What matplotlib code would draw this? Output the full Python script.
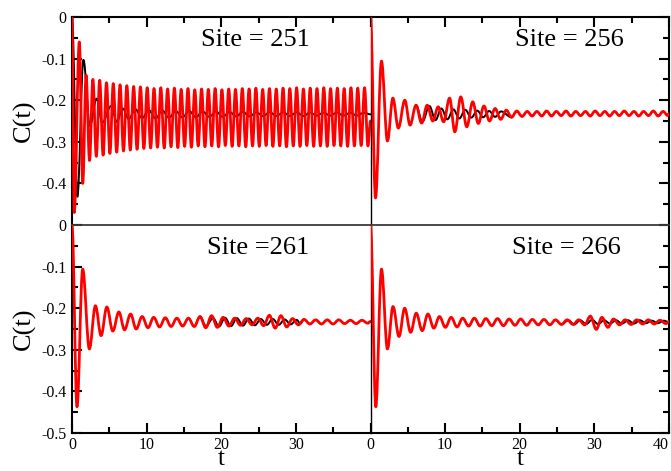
#!/usr/bin/env python3
"""C(t) at four sites: 2x2 panels, black vs red curves."""

import matplotlib

matplotlib.use("Agg")
import matplotlib.pyplot as plt
from matplotlib.patches import PathPatch
from matplotlib.path import Path
from matplotlib.ticker import MultipleLocator

# ── Data (extrema) ────────────────────────────────────────────────────────────
SITES = ["Site = 251", "Site = 256", "Site =261", "Site = 266"]

tl_red_t = [
    0.00, 0.30,
    0.98, 1.44, 1.89, 2.35, 2.80, 3.26, 3.71, 4.17, 4.62, 5.08,
    5.53, 5.99, 6.44, 6.90, 7.35, 7.81, 8.26, 8.72, 9.17, 9.63,
    10.08, 10.54, 10.99, 11.45, 11.90, 12.36, 12.81, 13.27, 13.72, 14.18,
    14.63, 15.09, 15.54, 16.00, 16.45, 16.91, 17.36, 17.82, 18.27, 18.73,
    19.18, 19.64, 20.09, 20.55, 21.00, 21.46, 21.91, 22.37, 22.82, 23.28,
    23.73, 24.19, 24.64, 25.10, 25.55, 26.01, 26.46, 26.92, 27.37, 27.83,
    28.28, 28.74, 29.19, 29.65, 30.10, 30.56, 31.01, 31.47, 31.92, 32.38,
    32.83, 33.29, 33.74, 34.20, 34.65, 35.11, 35.56, 36.02, 36.47, 36.93,
    37.38, 37.84, 38.29, 38.75, 39.20, 39.66,
    40.00,
]
tl_red_v = [
    0.0, -0.470,
    -0.060, -0.400, -0.140, -0.345, -0.150, -0.335, -0.152, -0.332,
    -0.158, -0.328, -0.160, -0.325, -0.163, -0.322, -0.165, -0.320,
    -0.167, -0.318, -0.168, -0.316, -0.170, -0.315, -0.172, -0.313,
    -0.170, -0.315, -0.173, -0.312, -0.171, -0.314, -0.174, -0.311,
    -0.172, -0.313, -0.175, -0.310, -0.173, -0.312, -0.174, -0.310,
    -0.172, -0.312, -0.175, -0.309, -0.173, -0.311, -0.174, -0.310,
    -0.172, -0.312, -0.173, -0.310, -0.171, -0.311, -0.174, -0.309,
    -0.172, -0.311, -0.173, -0.310, -0.171, -0.312, -0.172, -0.310,
    -0.170, -0.311, -0.173, -0.309, -0.171, -0.311, -0.172, -0.310,
    -0.170, -0.311, -0.172, -0.309, -0.171, -0.310, -0.172, -0.311,
    -0.170, -0.310, -0.171, -0.309, -0.170, -0.310,
    -0.250,
]
tl_black_t = [
    0.00, 0.72, 1.53, 2.40, 3.30, 4.05, 5.25, 6.00, 6.80, 7.60,
    8.50, 9.40, 10.30, 11.20, 12.10, 13.00, 13.90, 14.80, 15.70, 16.60,
    17.50, 18.40, 19.30, 20.20, 21.10, 22.00, 22.90, 23.80, 24.70, 25.60,
    26.50, 27.40, 28.30, 29.20, 30.10, 31.00, 31.90, 32.80, 33.70, 34.60,
    35.50, 36.40, 37.30, 38.20, 39.10, 40.00,
]
tl_black_v = [
    0.0, -0.432, -0.103, -0.262, -0.196, -0.254, -0.214, -0.252, -0.220, -0.245,
    -0.222, -0.243, -0.224, -0.244, -0.225, -0.242, -0.226, -0.241, -0.226, -0.241,
    -0.227, -0.240, -0.227, -0.240, -0.228, -0.239, -0.228, -0.239, -0.229, -0.238,
    -0.229, -0.238, -0.229, -0.238, -0.229, -0.238, -0.230, -0.237, -0.230, -0.237,
    -0.230, -0.237, -0.230, -0.237, -0.230, -0.234,
]

tr_red_t = [
    0.00, 0.67, 1.47, 2.27, 3.00, 3.73, 4.60, 5.30, 6.10, 6.85,
    7.60, 8.35, 9.07, 9.80, 10.60, 11.30, 12.10, 12.90, 13.70, 14.45,
    15.20, 15.95, 16.70, 17.45, 18.20, 18.90, 19.60, 20.30, 21.00,
    21.65, 22.30, 22.95, 23.60, 24.25, 24.90, 25.55, 26.20, 26.85, 27.50,
    28.15, 28.80, 29.45, 30.10, 30.75, 31.40, 32.05, 32.70, 33.35, 34.00,
    34.65, 35.30, 35.95, 36.60, 37.25, 37.90, 38.55, 39.20, 39.85,
    40.00,
]
tr_red_v = [
    0.0, -0.435, -0.106, -0.298, -0.195, -0.267, -0.200, -0.260, -0.212, -0.255,
    -0.212, -0.250, -0.216, -0.252, -0.195, -0.276, -0.192, -0.264, -0.204, -0.256,
    -0.214, -0.250, -0.220, -0.246, -0.224, -0.241, -0.226, -0.239, -0.227,
    -0.238, -0.227, -0.238, -0.226, -0.238, -0.227, -0.237, -0.226, -0.238, -0.227,
    -0.237, -0.227, -0.238, -0.226, -0.237, -0.227, -0.238, -0.227, -0.237, -0.226,
    -0.237, -0.227, -0.238, -0.227, -0.237, -0.226, -0.238, -0.227, -0.237,
    -0.232,
]
tr_black_t = [
    6.10, 6.95, 7.90, 8.70, 9.50, 10.30, 11.10, 11.90,
    12.70, 13.50, 14.30, 15.10, 15.90, 16.70, 17.50, 18.90,
]
tr_black_v = [
    -0.212, -0.252, -0.214, -0.248, -0.220, -0.246, -0.222, -0.244,
    -0.223, -0.242, -0.225, -0.241, -0.226, -0.240, -0.227, -0.241,
]

bl_red_t = [
    0.00, 0.67, 1.43, 2.33, 3.14, 3.90, 4.67, 5.47, 6.28, 7.04,
    7.85, 8.60, 9.40, 10.18, 10.95, 11.73, 12.50, 13.28, 14.05, 14.83,
    15.60, 16.38, 17.15, 17.93, 18.70, 19.48, 20.25, 21.03, 21.80, 22.58,
    23.35, 24.13, 24.90, 25.68, 26.45, 27.23, 28.00, 28.78, 29.55, 30.33,
    31.10, 31.88, 32.65, 33.43, 34.20, 34.98, 35.75, 36.53, 37.30, 38.08,
    38.85, 39.63, 40.00,
]
bl_red_v = [
    0.0, -0.437, -0.106, -0.298, -0.194, -0.266, -0.197, -0.255, -0.209, -0.252,
    -0.214, -0.250, -0.220, -0.247, -0.222, -0.245, -0.223, -0.244, -0.224, -0.243,
    -0.224, -0.244, -0.220, -0.247, -0.218, -0.246, -0.222, -0.243, -0.224, -0.241,
    -0.225, -0.240, -0.224, -0.242, -0.217, -0.248, -0.218, -0.245, -0.225, -0.240,
    -0.227, -0.238, -0.228, -0.238, -0.228, -0.238, -0.228, -0.237, -0.229, -0.237,
    -0.229, -0.236, -0.232,
]
bl_black_t = [
    17.15, 17.95, 18.90, 19.70, 20.50, 21.30, 22.10, 22.90, 23.70, 24.50,
    25.30, 26.10, 26.90, 27.70, 28.50, 29.30, 30.10, 30.60, 31.10,
]
bl_black_v = [
    -0.220, -0.243, -0.224, -0.244, -0.223, -0.243, -0.224, -0.242, -0.225, -0.241,
    -0.226, -0.240, -0.226, -0.240, -0.227, -0.239, -0.228, -0.237, -0.227,
]

br_red_t = [
    0.00, 0.71, 1.47, 2.27, 3.02, 3.82, 4.58, 5.38, 6.13, 6.93,
    7.69, 8.49, 9.24, 10.04, 10.80, 11.60, 12.35, 13.15, 13.91, 14.70,
    15.46, 16.26, 17.02, 17.82, 18.57, 19.37, 20.13, 20.93, 21.68, 22.48,
    23.24, 24.04, 24.79, 25.59, 26.35, 27.15, 27.90, 28.70, 29.46, 30.26,
    31.01, 31.81, 32.57, 33.37, 34.12, 34.92, 35.68, 36.48, 37.23, 38.03,
    38.79, 39.59, 40.00,
]
br_red_v = [
    0.0, -0.437, -0.106, -0.298, -0.196, -0.268, -0.200, -0.258, -0.212, -0.254,
    -0.214, -0.248, -0.220, -0.246, -0.222, -0.245, -0.224, -0.243, -0.224, -0.243,
    -0.225, -0.242, -0.225, -0.242, -0.226, -0.241, -0.226, -0.241, -0.227, -0.240,
    -0.227, -0.240, -0.228, -0.239, -0.228, -0.239, -0.228, -0.240, -0.219, -0.251,
    -0.222, -0.246, -0.226, -0.240, -0.228, -0.239, -0.228, -0.238, -0.228, -0.238,
    -0.229, -0.237, -0.232,
]
br_black_t = [
    25.59, 26.50, 27.30, 28.10, 28.90, 29.70, 30.50, 31.30, 32.10, 32.90,
    33.70, 34.50, 35.30, 36.10, 36.90, 37.70, 38.50, 39.30, 40.00,
]
br_black_v = [
    -0.239, -0.229, -0.239, -0.229, -0.238, -0.228, -0.238, -0.229, -0.237, -0.229,
    -0.237, -0.229, -0.237, -0.229, -0.236, -0.230, -0.236, -0.230, -0.234,
]

Y_TICKS = [0, -0.1, -0.2, -0.3, -0.4, -0.5]
Y_LABELS = ["0", "-0.1", "-0.2", "-0.3", "-0.4", "-0.5"]
X_TICKS = [0, 10, 20, 30, 40]
X_LABELS = ["0", "10", "20", "30", "40"]

# ── Style ─────────────────────────────────────────────────────────────────────
RED = "#ff0000"
BLACK = "#000000"
DIVIDER = "#3a3a3a"

plt.rcParams.update({
    "font.family": ["Liberation Serif", "DejaVu Serif"],
    "axes.unicode_minus": False,
})


def wave_path(t, v, k=0.364):
    """Cubic path through the extrema, flat tangent at each one."""
    verts = [(t[0], v[0])]
    codes = [Path.MOVETO]
    for i in range(1, len(t)):
        d = t[i] - t[i - 1]
        verts += [(t[i - 1] + k * d, v[i - 1]), (t[i] - k * d, v[i]), (t[i], v[i])]
        codes += [Path.CURVE4] * 3
    return Path(verts, codes)


def draw_wave(ax, t, v, color, lw, z):
    patch = PathPatch(wave_path(t, v), facecolor="none", edgecolor=color,
                      linewidth=lw, zorder=z, joinstyle="round", capstyle="round")
    ax.add_patch(patch)


def style_axis(ax, left, right, top, bottom):
    ax.set_xlim(0, 40)
    ax.set_ylim(-0.5, 0)
    ax.xaxis.set_major_locator(MultipleLocator(10))
    ax.xaxis.set_minor_locator(MultipleLocator(5))
    ax.yaxis.set_major_locator(MultipleLocator(0.1))
    ax.yaxis.set_minor_locator(MultipleLocator(0.05))
    ax.tick_params(which="both", direction="in", width=1.5,
                   left=left, right=right, top=top, bottom=bottom,
                   labelleft=False, labelright=False, labeltop=False, labelbottom=False)
    ax.tick_params(which="major", length=7.5)
    ax.tick_params(which="minor", length=4)
    for side in ("left", "right", "top", "bottom"):
        ax.spines[side].set_linewidth(1.5)
        ax.spines[side].set_color(BLACK)


def main():
    fig, axes = plt.subplots(2, 2, figsize=(6.71, 4.71), dpi=100,
                             gridspec_kw={"wspace": 0, "hspace": 0})
    fig.patch.set_facecolor("white")
    plt.subplots_adjust(left=72 / 671, right=669 / 671, top=1 - 17 / 471, bottom=1 - 433 / 471)

    ax_tl, ax_tr = axes[0]
    ax_bl, ax_br = axes[1]

    panels = [
        (ax_tl, tl_red_t, tl_red_v, tl_black_t, tl_black_v, SITES[0], 0.613, 0.89),
        (ax_tr, tr_red_t, tr_red_v, tr_black_t, tr_black_v, SITES[1], 0.667, 0.89),
        (ax_bl, bl_red_t, bl_red_v, bl_black_t, bl_black_v, SITES[2], 0.625, 0.89),
        (ax_br, br_red_t, br_red_v, br_black_t, br_black_v, SITES[3], 0.657, 0.89),
    ]
    for ax, rt, rv, bt, bv, label, tx, ty in panels:
        draw_wave(ax, bt, bv, BLACK, 1.4, 3)
        draw_wave(ax, rt, rv, RED, 2.0, 4)
        ax.text(tx, ty, label, transform=ax.transAxes, ha="center", va="center",
                fontsize=19, color=BLACK)

    style_axis(ax_tl, left=True, right=False, top=True, bottom=False)
    style_axis(ax_tr, left=False, right=True, top=True, bottom=False)
    style_axis(ax_bl, left=True, right=False, top=False, bottom=True)
    style_axis(ax_br, left=False, right=True, top=False, bottom=True)

    # inner dividers: drawn once, thinner
    ax_tl.spines["bottom"].set_visible(False)
    ax_tr.spines["bottom"].set_visible(False)
    ax_bl.spines["top"].set_linewidth(1.3)
    ax_bl.spines["top"].set_color(DIVIDER)
    ax_br.spines["top"].set_linewidth(1.3)
    ax_br.spines["top"].set_color(DIVIDER)
    ax_tl.spines["right"].set_visible(False)
    ax_bl.spines["right"].set_visible(False)
    ax_tr.spines["left"].set_linewidth(1.0)
    ax_br.spines["left"].set_linewidth(1.0)

    # y labels on the left column
    for ax, labels in ((ax_tl, Y_LABELS[:-1] + [""]), (ax_bl, Y_LABELS)):
        ax.set_yticks(Y_TICKS)
        ax.set_yticklabels(labels, fontsize=11.5)
        ax.tick_params(axis="y", labelleft=True, pad=4)
        ax.set_ylabel("C(t)", fontsize=19)
        ax.yaxis.set_label_coords(-0.12, 0.5)

    # x labels on the bottom row
    for ax, labels in ((ax_bl, X_LABELS[:-1] + [""]), (ax_br, X_LABELS)):
        ax.set_xticks(X_TICKS)
        ax.set_xticklabels(labels, fontsize=11.5)
        ax.tick_params(axis="x", labelbottom=True, pad=3)
        ax.set_xlabel("t", fontsize=18)
        ax.xaxis.label.set_va("baseline")
        ax.xaxis.set_label_coords(0.5, -0.152)
    ax_br.get_xticklabels()[-1].set_ha("right")

    fig.savefig("out.png", dpi=100, facecolor="white")
    plt.close(fig)


if __name__ == "__main__":
    main()
